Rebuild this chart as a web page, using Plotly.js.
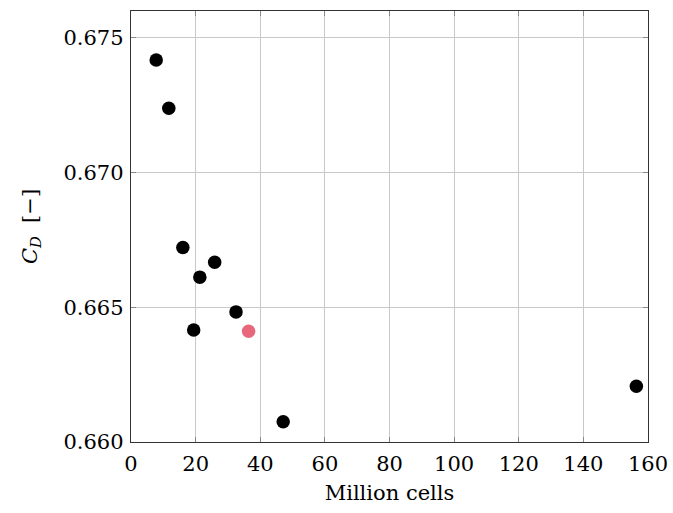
<!DOCTYPE html>
<html>
<head>
<meta charset="utf-8">
<script src="https://cdn.plot.ly/plotly-3.0.1.min.js"></script>
<style>html,body{margin:0;padding:0;background:#fff;}#chart{width:673px;height:513px;}</style>
</head>
<body>
<div id="chart"></div>
<script>
const cellsBlack = [7.8, 11.7, 16.05, 25.9, 21.3, 32.5, 19.4, 47.1, 156.4];
const cdBlack = [0.67418, 0.67239, 0.66722, 0.66667, 0.66612, 0.66483, 0.66416, 0.66075, 0.66207];
const cellsRed = [36.4];
const cdRed = [0.66411];
const xTicks = [0, 20, 40, 60, 80, 100, 120, 140, 160];
const yTicks = [0.660, 0.665, 0.670, 0.675];

const font = {family: 'DejaVu Serif', size: 21, color: '#000'};
const titleFont = {family: 'DejaVu Serif', size: 21, color: '#000'};

const traces = [
  {x: cellsBlack, y: cdBlack, mode: 'markers', type: 'scatter',
   marker: {color: '#000', size: 13.5}, showlegend: false, hoverinfo: 'none'},
  {x: cellsRed, y: cdRed, mode: 'markers', type: 'scatter',
   marker: {color: '#e8687b', size: 13.5}, showlegend: false, hoverinfo: 'none'}
];

const axisCommon = {
  showline: true, linecolor: '#333', linewidth: 1.2, mirror: 'ticks',
  ticks: 'inside', ticklen: 5, tickcolor: '#888', tickwidth: 1,
  showgrid: true, gridcolor: '#c8c8c8', gridwidth: 1,
  zeroline: false, tickfont: font
};

const layout = {
  width: 673, height: 513,
  font: font,
  margin: {l: 131, r: 25, t: 11, b: 71},
  paper_bgcolor: '#fff', plot_bgcolor: '#fff',
  xaxis: Object.assign({}, axisCommon, {
    range: [0, 160], tickvals: xTicks, ticktext: xTicks.map(String), ticklabelstandoff: 3,
    title: {text: 'Million cells', font: titleFont, standoff: 9}
  }),
  yaxis: Object.assign({}, axisCommon, {
    range: [0.660, 0.676], tickvals: yTicks, ticktext: yTicks.map(v => v.toFixed(3)), ticklabelstandoff: 2,
    title: {text: '<i>C</i><sub><i>D</i></sub>  [−]', font: titleFont, standoff: 20}
  })
};

Plotly.newPlot('chart', traces, layout, {staticPlot: true, displayModeBar: false});
</script>
</body>
</html>
